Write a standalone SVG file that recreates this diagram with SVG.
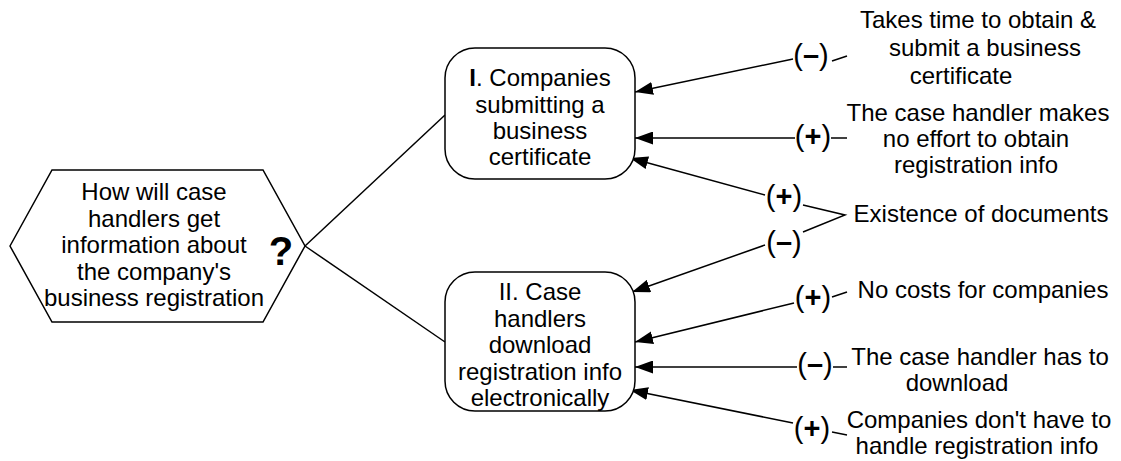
<svg xmlns="http://www.w3.org/2000/svg" width="1121" height="461" viewBox="0 0 1121 461">
<style>
.shape{fill:#fff;stroke:#000;stroke-width:1.5}
.ln{fill:none;stroke:#000;stroke-width:1.5}
.t{font-family:"Liberation Sans",Arial,sans-serif;font-size:24px;fill:#000;text-anchor:middle}
.s{font-family:"Liberation Sans",Arial,sans-serif;font-size:29px;fill:#000;text-anchor:middle}
.b{font-weight:bold}
</style>
<defs>
<marker id="ah" markerUnits="userSpaceOnUse" markerWidth="18" markerHeight="13" refX="18" refY="6.5" orient="auto">
<path d="M0,0 L18,6.5 L0,13 z" fill="#000"/>
</marker>
</defs>
<rect width="1121" height="461" fill="#fff"/>
<g id="connectors">
<line class="ln" x1="305" y1="246" x2="445" y2="115"/>
<line class="ln" x1="305" y1="246" x2="445" y2="342"/>
<line class="ln" x1="793" y1="59" x2="635" y2="92" marker-end="url(#ah)"/>
<line class="ln" x1="832" y1="61" x2="847" y2="56"/>
<line class="ln" x1="795" y1="138" x2="635" y2="138" marker-end="url(#ah)"/>
<line class="ln" x1="831" y1="138" x2="847" y2="138"/>
<line class="ln" x1="765" y1="195" x2="630" y2="158" marker-end="url(#ah)"/>
<polyline class="ln" points="803,205 845,215 803,232"/>
<line class="ln" x1="765" y1="245" x2="632" y2="292" marker-end="url(#ah)"/>
<line class="ln" x1="794" y1="303" x2="635" y2="342" marker-end="url(#ah)"/>
<line class="ln" x1="832" y1="297" x2="847" y2="292"/>
<line class="ln" x1="797" y1="367" x2="635" y2="367" marker-end="url(#ah)"/>
<line class="ln" x1="833" y1="367" x2="847" y2="367"/>
<line class="ln" x1="793" y1="423" x2="630" y2="390" marker-end="url(#ah)"/>
<line class="ln" x1="832" y1="432" x2="847" y2="435"/>
<text class="s" x="811" y="65">(<tspan class="b">–</tspan>)</text>
<text class="s" x="813" y="146">(<tspan class="b">+</tspan>)</text>
<text class="s" x="784" y="206">(<tspan class="b">+</tspan>)</text>
<text class="s" x="784" y="252">(<tspan class="b">–</tspan>)</text>
<text class="s" x="813" y="307">(<tspan class="b">+</tspan>)</text>
<text class="s" x="815" y="374">(<tspan class="b">–</tspan>)</text>
<text class="s" x="812" y="438">(<tspan class="b">+</tspan>)</text>
</g>
<g id="question">
<polygon class="shape" points="10,246 52,170 263,170 305,246 263,322 52,322"/>
<text class="t" x="154" y="200">How will case</text>
<text class="t" x="154" y="226.5">handlers get</text>
<text class="t" x="154" y="253">information about</text>
<text class="t" x="154" y="279.5">the company's</text>
<text class="t" x="154" y="306">business registration</text>
<text class="t b" x="281" y="265" style="font-size:40px">?</text>
</g>
<g id="option1">
<rect class="shape" x="445" y="48" width="190" height="131" rx="30" ry="30"/>
<text class="t" x="540" y="86"><tspan class="b">I</tspan>. Companies</text>
<text class="t" x="540" y="112.5">submitting a</text>
<text class="t" x="540" y="139">business</text>
<text class="t" x="540" y="165">certificate</text>
</g>
<g id="option2">
<rect class="shape" x="445" y="272" width="190" height="139" rx="30" ry="30"/>
<text class="t" x="540" y="300">II. Case</text>
<text class="t" x="540" y="326.5">handlers</text>
<text class="t" x="540" y="353">download</text>
<text class="t" x="540" y="379.5">registration info</text>
<text class="t" x="540" y="406">electronically</text>
</g>
<g id="crit1">
<text class="t" x="978" y="28">Takes time to obtain &amp;</text>
<text class="t" x="985" y="56">submit a business</text>
<text class="t" x="961" y="84">certificate</text>
</g>
<g id="crit2">
<text class="t" x="978" y="121">The case handler makes</text>
<text class="t" x="976" y="147">no effort to obtain</text>
<text class="t" x="976" y="173">registration info</text>
</g>
<g id="crit3">
<text class="t" x="981" y="222">Existence of documents</text>
</g>
<g id="crit4">
<text class="t" x="983" y="298">No costs for companies</text>
</g>
<g id="crit5">
<text class="t" x="980" y="365">The case handler has to</text>
<text class="t" x="957" y="391">download</text>
</g>
<g id="crit6">
<text class="t" x="979" y="428">Companies don't have to</text>
<text class="t" x="977" y="454">handle registration info</text>
</g>
</svg>
